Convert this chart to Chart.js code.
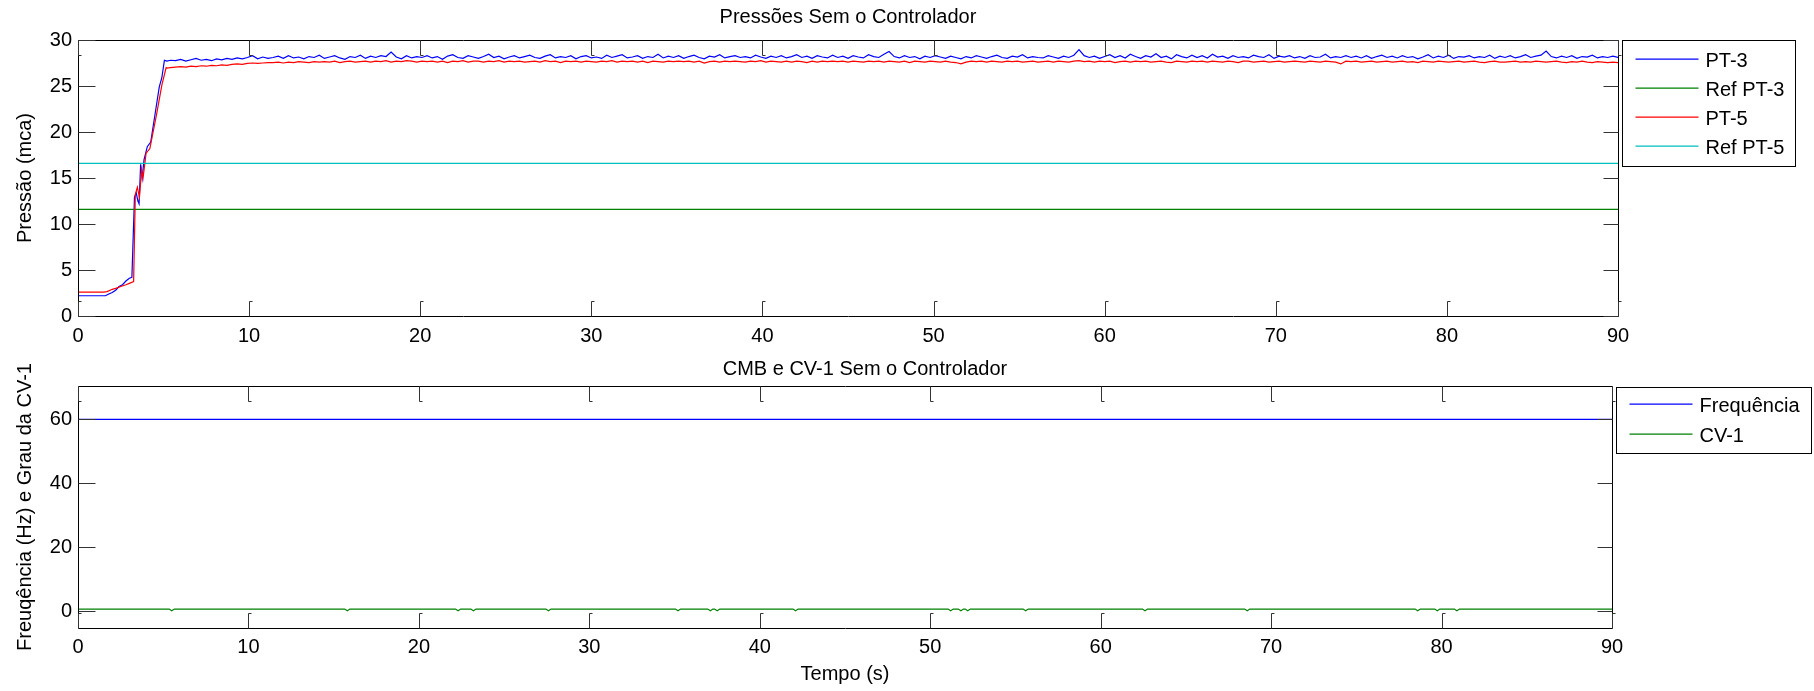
<!DOCTYPE html>
<html>
<head>
<meta charset="utf-8">
<title>Pressões Sem o Controlador</title>
<script src="https://cdn.jsdelivr.net/npm/chart.js@4.4.1/dist/chart.umd.min.js"></script>
<style>
  html, body { margin: 0; padding: 0; background: #fff; }
  #wrap { position: relative; width: 1814px; height: 691px; }
  canvas { position: absolute; left: 0; }
  #top { top: 0; }
  #bottom { top: 345px; }
</style>
</head>
<body>
<div id="wrap">
  <canvas id="top" width="1814" height="345"></canvas>
  <canvas id="bottom" width="1814" height="346"></canvas>
</div>
<script>
// eixos
const timeTicks = [0, 10, 20, 30, 40, 50, 60, 70, 80, 90];
const topYTicks = [0, 5, 10, 15, 20, 25, 30];
const bottomYTicks = [0, 20, 40, 60];

// subida das pressões (amostras irregulares, 0 a 5.2 s)
const pt3RiseTime = [0, 0.5, 1.0, 1.6, 1.8, 2.0, 2.2, 2.4, 2.6, 2.8, 3.0, 3.15, 3.3, 3.4, 3.5, 3.57, 3.66, 3.75, 3.86, 4.05, 4.25, 4.5, 4.75, 4.9, 5.05, 5.2];
const pt3Rise = [2.2, 2.2, 2.2, 2.2, 2.4, 2.55, 2.8, 3.2, 3.4, 3.8, 4.1, 4.2, 12.9, 13.4, 12.5, 12.2, 16.5, 15.0, 17.0, 18.4, 18.9, 21.9, 24.9, 25.9, 27.8, 27.7];
const pt5RiseTime = [0, 0.5, 1.0, 1.5, 1.7, 2.0, 2.2, 2.5, 2.8, 3.0, 3.25, 3.35, 3.47, 3.59, 3.72, 3.8, 3.98, 4.2, 4.6, 4.9, 5.15, 5.2];
const pt5Rise = [2.6, 2.6, 2.6, 2.6, 2.65, 2.9, 3.0, 3.2, 3.4, 3.55, 3.75, 13.2, 14.0, 12.9, 15.9, 15.0, 17.7, 18.2, 22.0, 25.1, 27.0, 26.95];

// regime: uma amostra a cada 0.3 s a partir de 5.4 s
const steadyStart = 5.4;
const steadyStep = 0.3;
const pt3Steady = [
  27.8, 27.75, 27.9, 27.7, 27.85, 28.0, 27.8, 27.9, 27.75, 27.95,
  27.85, 28.0, 27.9, 28.05, 27.95, 28.1, 28.3, 27.95, 28.15, 28.0,
  28.1, 28.25, 28.0, 28.3, 28.05, 28.15, 27.95, 28.2, 28.1, 28.35,
  28.0, 28.15, 28.3, 28.05, 27.9, 28.2, 28.1, 28.35, 28.0, 28.25,
  28.1, 28.3, 28.2, 28.7, 28.15, 27.95, 28.3, 28.05, 28.2, 28.1,
  28.3, 28.05, 28.2, 27.9, 28.25, 28.4, 28.1, 28.0, 28.3, 28.15,
  28.0, 28.2, 28.45, 28.1, 28.25, 27.95, 28.15, 28.3, 28.05, 28.2,
  28.35, 28.1, 28.0, 28.25, 28.4, 28.05, 28.2, 28.1, 28.3, 27.95,
  28.2, 28.3, 28.05, 28.15, 28.0, 28.35, 28.1, 28.25, 28.4, 28.05,
  28.15, 28.3, 28.0, 28.2, 28.1, 28.45, 28.05, 28.25, 28.1, 28.3,
  28.0, 28.2, 28.35, 28.1, 27.95, 28.25, 28.15, 28.4, 28.05, 28.2,
  28.3, 28.1, 28.2, 28.05, 28.35, 28.15, 28.0, 28.25, 28.1, 28.3,
  28.05, 28.2, 28.4, 28.1, 28.25, 28.0, 28.3, 28.15, 28.05, 28.35,
  28.1, 28.25, 28.0, 28.3, 28.15, 28.05, 28.4, 28.2, 28.1, 28.45,
  28.75, 28.2, 28.05, 28.3, 28.1, 28.2, 27.95, 28.25, 28.1, 28.3,
  28.15, 28.0, 28.25, 28.1, 27.95, 28.2, 28.05, 28.3, 28.15, 28.0,
  28.2, 28.35, 28.1, 28.0, 28.25, 28.15, 28.4, 28.05, 28.2, 28.1,
  28.05, 28.3, 28.15, 28.0, 28.25, 28.1, 28.35, 28.95, 28.3, 28.1,
  28.25, 28.0, 28.2, 28.4, 28.1, 28.3, 28.05, 28.45, 28.2, 28.0,
  28.3, 28.15, 28.5, 28.1, 28.25, 27.95, 28.4, 28.2, 28.05, 28.35,
  28.1, 28.3, 28.05, 28.45, 28.15, 28.25, 28.0, 28.3, 28.1, 28.2,
  28.05, 28.35, 28.2, 28.1, 28.4, 28.0, 28.25, 28.15, 28.3, 28.05,
  28.2, 28.0, 28.3, 28.1, 28.15, 28.45, 28.05, 28.2, 28.1, 28.3,
  28.1, 28.25, 28.05, 28.3, 28.0, 28.2, 28.35, 28.1, 28.25, 28.05,
  28.3, 28.1, 28.2, 27.95, 28.15, 28.4, 28.05, 28.25, 28.1, 28.35,
  28.0, 28.2, 28.15, 28.3, 28.05, 28.2, 28.1, 28.35, 28.0, 28.25,
  28.1, 28.3, 28.05, 28.2, 28.4, 28.1, 28.25, 28.35, 28.8, 28.2,
  28.05, 28.25, 28.1, 28.3, 28.0, 28.2, 28.15, 28.35, 28.05, 28.2,
  28.1, 28.25, 28.1
];
const pt5Steady = [
  27.0, 27.05, 27.1, 27.05, 27.15, 27.1, 27.2, 27.15, 27.25, 27.2,
  27.3, 27.25, 27.35, 27.4, 27.35, 27.45, 27.5, 27.45, 27.5, 27.55,
  27.55, 27.6, 27.5, 27.6, 27.55, 27.65, 27.6, 27.55, 27.65, 27.6,
  27.65, 27.6, 27.7, 27.55, 27.65, 27.7, 27.6, 27.65, 27.7, 27.6,
  27.7, 27.65, 27.75, 27.6, 27.7, 27.65, 27.75, 27.7, 27.6, 27.7,
  27.65, 27.7, 27.6, 27.7, 27.55, 27.7, 27.65, 27.75, 27.6, 27.7,
  27.7, 27.6, 27.7, 27.65, 27.75, 27.6, 27.7, 27.65, 27.7, 27.6,
  27.65, 27.7, 27.6, 27.75, 27.65, 27.7, 27.55, 27.7, 27.65, 27.7,
  27.6, 27.7, 27.65, 27.6, 27.7, 27.65, 27.75, 27.6, 27.7, 27.65,
  27.7, 27.6, 27.7, 27.55, 27.7, 27.65, 27.6, 27.7, 27.65, 27.7,
  27.65, 27.7, 27.6, 27.7, 27.5, 27.65, 27.7, 27.6, 27.7, 27.65,
  27.7, 27.65, 27.6, 27.7, 27.65, 27.75, 27.6, 27.7, 27.65, 27.6,
  27.7, 27.6, 27.7, 27.65, 27.55, 27.7, 27.6, 27.7, 27.65, 27.7,
  27.65, 27.7, 27.6, 27.7, 27.65, 27.6, 27.7, 27.65, 27.7, 27.6,
  27.7, 27.65, 27.6, 27.7, 27.55, 27.7, 27.65, 27.6, 27.7, 27.65,
  27.6, 27.7, 27.6, 27.55, 27.4, 27.6, 27.7, 27.65, 27.7, 27.6,
  27.7, 27.65, 27.6, 27.7, 27.65, 27.7, 27.6, 27.65, 27.7, 27.6,
  27.65, 27.7, 27.6, 27.7, 27.65, 27.6, 27.7, 27.75, 27.65, 27.7,
  27.6, 27.7, 27.65, 27.7, 27.55, 27.65, 27.7, 27.6, 27.7, 27.65,
  27.7, 27.6, 27.65, 27.7, 27.6, 27.55, 27.7, 27.65, 27.6, 27.7,
  27.65, 27.7, 27.6, 27.7, 27.65, 27.6, 27.7, 27.65, 27.55, 27.7,
  27.7, 27.6, 27.65, 27.7, 27.6, 27.65, 27.7, 27.6, 27.65, 27.7,
  27.65, 27.6, 27.7, 27.65, 27.6, 27.7, 27.65, 27.6, 27.4, 27.7,
  27.65, 27.7, 27.6, 27.65, 27.7, 27.6, 27.65, 27.7, 27.6, 27.65,
  27.7, 27.6, 27.65, 27.55, 27.7, 27.65, 27.6, 27.7, 27.65, 27.6,
  27.65, 27.7, 27.6, 27.65, 27.7, 27.6, 27.55, 27.65, 27.7, 27.6,
  27.6, 27.65, 27.7, 27.6, 27.65, 27.6, 27.7, 27.65, 27.6, 27.65,
  27.7, 27.6, 27.55, 27.65, 27.6, 27.7, 27.6, 27.55, 27.65, 27.6,
  27.55, 27.6, 27.55
];
const refPT3 = 11.6;
const refPT5 = 16.6;

// CMB e CV-1
const freqTime = [0, 90];
const freqValue = [60, 60];
const cv1Time = [0, 5.35, 5.5, 5.65, 15.65, 15.8, 15.95, 22.15, 22.3, 22.45, 23.05, 23.2, 23.35,
  27.45, 27.6, 27.75, 35.05, 35.2, 35.35, 36.95, 37.1, 37.25, 37.35, 37.5, 37.65, 41.95, 42.1, 42.25,
  51.05, 51.2, 51.35, 51.65, 51.8, 51.95, 52.05, 52.2, 52.35, 55.45, 55.6, 55.75, 62.45, 62.6, 62.75,
  68.45, 68.6, 68.75, 78.45, 78.6, 78.75, 79.6, 79.75, 79.9, 80.75, 80.9, 81.05, 90];
const cv1Value = [0.7, 0.7, 0.2, 0.7, 0.7, 0.2, 0.7, 0.7, 0.2, 0.7, 0.7, 0.2, 0.7,
  0.7, 0.2, 0.7, 0.7, 0.2, 0.7, 0.7, 0.2, 0.7, 0.7, 0.2, 0.7, 0.7, 0.2, 0.7,
  0.7, 0.2, 0.7, 0.7, 0.2, 0.7, 0.7, 0.2, 0.7, 0.7, 0.2, 0.7, 0.7, 0.2, 0.7,
  0.7, 0.2, 0.7, 0.7, 0.2, 0.7, 0.7, 0.2, 0.7, 0.7, 0.2, 0.7, 0.7];

const FONT = '20px "Liberation Sans", Arial, sans-serif';
Chart.defaults.font.family = '"Liberation Sans", Arial, sans-serif';
Chart.defaults.font.size = 20;
Chart.defaults.color = '#000';

function pts(times, values) {
  return values.map((v, i) => ({ x: times[i], y: v }));
}
const steadyTime = pt3Steady.map((_, i) => +(steadyStart + i * steadyStep).toFixed(2));

// caixa do eixo e marcas das divisões, no estilo do MATLAB
const matlabAxes = {
  id: 'matlabAxes',
  afterDatasetsDraw(chart) {
    const { ctx, chartArea: a, scales: { x, y } } = chart;
    const L = Math.floor(a.left) + 0.5, R = Math.floor(a.right) + 0.5;
    const T = Math.floor(a.top) + 0.5, B = Math.floor(a.bottom) + 0.5;
    ctx.save();
    ctx.strokeStyle = '#000';
    ctx.lineWidth = 1;
    ctx.beginPath();
    ctx.rect(L, T, R - L, B - T);
    ctx.stroke();
    ctx.strokeStyle = '#333';
    ctx.beginPath();
    x.ticks.forEach(t => {
      const px = Math.round(x.getPixelForValue(t.value)) + 0.5;
      ctx.moveTo(px, T); ctx.lineTo(px, T + 15); ctx.lineTo(px + 3, T + 15);
      ctx.moveTo(px + 3, B - 15); ctx.lineTo(px, B - 15); ctx.lineTo(px, B);
    });
    y.ticks.forEach(t => {
      const py = Math.round(y.getPixelForValue(t.value)) + 0.5;
      ctx.moveTo(L, py); ctx.lineTo(L + 17, py);
      ctx.moveTo(R - 15, py); ctx.lineTo(R, py);
    });
    ctx.stroke();
    ctx.restore();
  }
};

const axesTitle = {
  id: 'axesTitle',
  afterDraw(chart, args, o) {
    const { ctx, chartArea: a } = chart;
    ctx.save();
    ctx.font = FONT;
    ctx.fillStyle = '#000';
    ctx.textAlign = 'center';
    ctx.textBaseline = 'middle';
    ctx.fillText(o.text, (a.left + a.right) / 2 + o.dx, a.top - o.dy);
    ctx.restore();
  }
};

const boxLegend = {
  id: 'boxLegend',
  afterDraw(chart, args, o) {
    const { ctx, chartArea: a } = chart;
    const left = Math.floor(a.right) + o.gap + 0.5, top = Math.floor(a.top) + o.dTop + 0.5;
    ctx.save();
    ctx.fillStyle = '#fff';
    ctx.fillRect(left, top, o.width, o.height);
    ctx.strokeStyle = '#000';
    ctx.lineWidth = 1;
    ctx.strokeRect(left, top, o.width, o.height);
    ctx.font = FONT;
    ctx.textBaseline = 'middle';
    chart.data.datasets.forEach((ds, i) => {
      const yy = Math.round(top + o.first + i * o.step) + 0.2;
      const meta = chart.getDatasetMeta(i);
      ctx.strokeStyle = meta.dataset.options.borderColor;
      ctx.lineWidth = 1.3;
      ctx.beginPath();
      ctx.moveTo(left + 13, yy);
      ctx.lineTo(left + 76, yy);
      ctx.stroke();
      ctx.fillStyle = '#000';
      ctx.fillText(ds.label, left + 83, yy + 2);
    });
    ctx.restore();
  }
};

function makeChart(id, datasets, c) {
  return new Chart(document.getElementById(id), {
    type: 'line',
    data: { datasets },
    plugins: [matlabAxes, axesTitle, boxLegend],
    options: {
      responsive: false,
      animation: false,
      events: [],
      layout: { padding: c.padding },
      elements: { point: { radius: 0 }, line: { borderWidth: 1.2, tension: 0 } },
      plugins: {
        legend: { display: false },
        tooltip: { enabled: false },
        axesTitle: c.title,
        boxLegend: c.legend
      },
      scales: {
        x: {
          type: 'linear', min: 0, max: 90,
          grid: { display: false, drawTicks: false },
          border: { display: false },
          afterBuildTicks: s => { s.ticks = timeTicks.map(v => ({ value: v })); },
          afterFit: s => { s.height = c.xHeight; },
          ticks: { padding: c.xPad, maxRotation: 0, autoSkip: false },
          title: c.xTitle
        },
        y: {
          type: 'linear', min: c.yMin, max: c.yMax,
          grid: { display: false, drawTicks: false },
          border: { display: false },
          afterBuildTicks: s => { s.ticks = c.yTicks.map(v => ({ value: v })); },
          afterFit: s => { s.width = 78; },
          ticks: { padding: 6, autoSkip: false },
          title: { display: true, text: c.yLabel, padding: { top: 13, bottom: 0 } }
        }
      }
    }
  });
}

makeChart('top', [
  { label: 'PT-3', data: pts(pt3RiseTime.concat(steadyTime), pt3Rise.concat(pt3Steady)), borderColor: '#0000ff', order: 3 },
  { label: 'Ref PT-3', data: pts([0, 90], [refPT3, refPT3]), borderColor: '#008000', order: 2 },
  { label: 'PT-5', data: pts(pt5RiseTime.concat(steadyTime), pt5Rise.concat(pt5Steady)), borderColor: '#ff0000', order: 1 },
  { label: 'Ref PT-5', data: pts([0, 90], [refPT5, refPT5]), borderColor: '#00bfbf', order: 0 }
], {
  padding: { left: 0, right: 196, top: 40, bottom: 0 },
  xHeight: 29, xPad: 8,
  xTitle: { display: false },
  yMin: 0, yMax: 30, yTicks: topYTicks,
  yLabel: 'Pressão (mca)',
  title: { text: 'Pressões Sem o Controlador', dx: 0, dy: 22.5 },
  legend: { gap: 4, dTop: 0, width: 173, height: 126, first: 18, step: 29.3 }
});

makeChart('bottom', [
  { label: 'Frequência', data: pts(freqTime, freqValue), borderColor: '#0000ff', order: 1 },
  { label: 'CV-1', data: pts(cv1Time, cv1Value), borderColor: '#008000', order: 0 }
], {
  padding: { left: 0, right: 202, top: 41, bottom: 0 },
  xHeight: 63, xPad: 7,
  xTitle: { display: true, text: 'Tempo (s)', padding: { top: 0, bottom: 5 } },
  yMin: -5.2, yMax: 70.4, yTicks: bottomYTicks,
  yLabel: 'Freuqência (Hz) e Grau da CV-1',
  title: { text: 'CMB e CV-1 Sem o Controlador', dx: 20, dy: 17 },
  legend: { gap: 4, dTop: 1, width: 195, height: 66, first: 16, step: 30.7 }
});
</script>
</body>
</html>
